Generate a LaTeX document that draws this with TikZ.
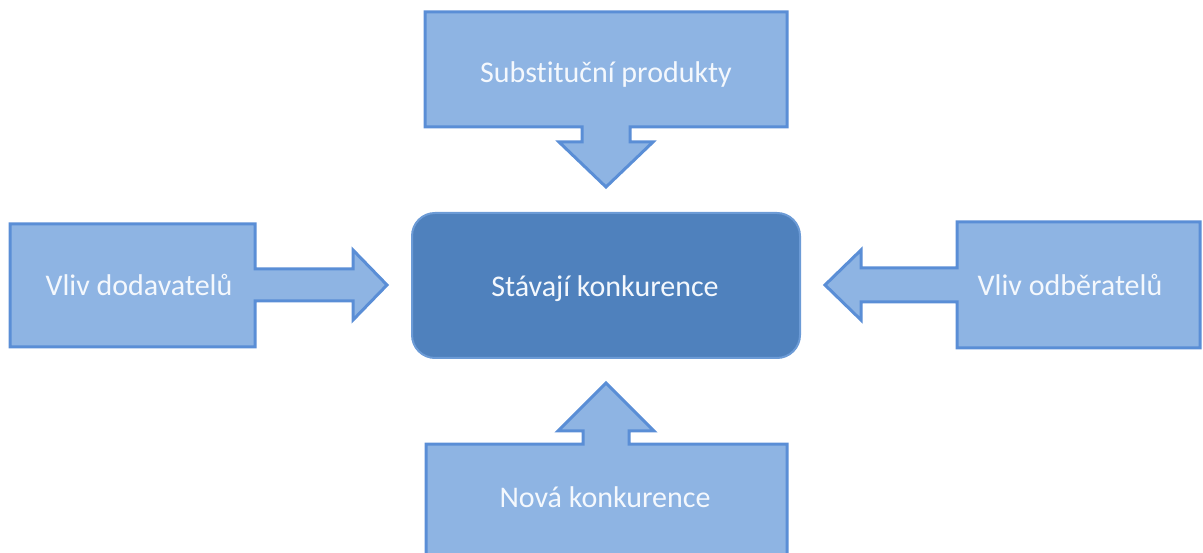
\documentclass[tikz,border=0pt]{standalone}
\usepackage{fontspec}
\setmainfont{Carlito}[Ligatures=NoCommon]
\definecolor{calloutfill}{HTML}{8EB4E3}
\definecolor{calloutline}{HTML}{5A8ED6}
\definecolor{corefill}{HTML}{4F81BD}
\definecolor{coreline}{HTML}{6C9BD6}
\definecolor{labeltext}{HTML}{F4F8FD}
\tikzset{
  callout/.style={fill=calloutfill, draw=calloutline, line width=3pt, line join=miter},
  core/.style={fill=corefill, draw=coreline, line width=2pt, rounded corners=23pt},
  label/.style={text=labeltext, font=\fontsize{30}{36}\selectfont, anchor=base, inner sep=0pt}
}
\begin{document}
\begin{tikzpicture}[x=1pt,y=-1pt]
\useasboundingbox (0,0) rectangle (1203,553);
\clip (0,0) rectangle (1203,553);

% central box
\draw[core] (412,213) rectangle (800,358);
\node[label] (stavajici) at (605,297) {Stávají konkurence};

% top: substitutes, arrow pointing down
\draw[callout] (425,12) -- (787,12) -- (787,127) -- (630,127) -- (630,142) -- (653,142)
  -- (606,187) -- (559,142) -- (582,142) -- (582,127) -- (425,127) -- cycle;
\node[label] (substituty) at (606,83) {Substituční produkty};

% left: suppliers, arrow pointing right
\draw[callout] (10,224) -- (255,224) -- (255,269) -- (353,269) -- (353,250) -- (387,285)
  -- (353,320) -- (353,301) -- (255,301) -- (255,347) -- (10,347) -- cycle;
\node[label] (dodavatele) at (139,296) {Vliv dodavatelů};

% right: buyers, arrow pointing left
\draw[callout] (1200,222) -- (957,222) -- (957,268) -- (861,268) -- (861,250) -- (825,285)
  -- (861,320) -- (861,302) -- (957,302) -- (957,348) -- (1200,348) -- cycle;
\node[label] (odberatele) at (1070,296) {Vliv odběratelů};

% bottom: new entrants, arrow pointing up
\draw[callout] (426,600) -- (426,444) -- (583,444) -- (583,431) -- (558,431) -- (606,383)
  -- (654,431) -- (629,431) -- (629,444) -- (787,444) -- (787,600) -- cycle;
\node[label] (nova) at (605,507) {Nová konkurence};
\end{tikzpicture}
\end{document}
